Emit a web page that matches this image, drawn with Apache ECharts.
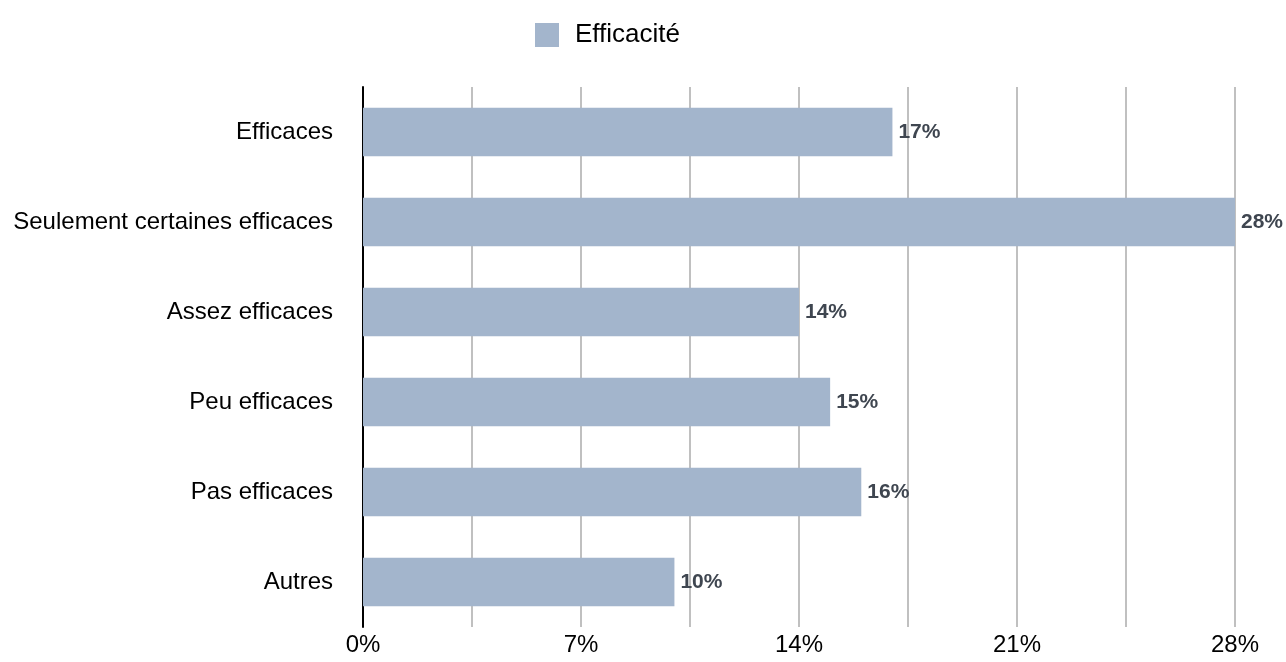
<!DOCTYPE html>
<html><head><meta charset="utf-8">
<script src="https://cdn.jsdelivr.net/npm/echarts@6/dist/echarts.min.js"></script>
<style>html,body{margin:0;padding:0;background:#fff}#c{width:1286px;height:662px}</style>
</head><body><div id="c"></div>
<script>
const categories = ["Efficaces","Seulement certaines efficaces","Assez efficaces","Peu efficaces","Pas efficaces","Autres"];
const values = [17, 28, 14, 15, 16, 10];
const seriesName = "Efficacité";
const chart = echarts.init(document.getElementById('c'), null, {renderer:'canvas'});
chart.setOption({
  animation:false,
  legend:{top:17, left:530, itemWidth:24, itemHeight:24, icon:'rect',
    textStyle:{fontFamily:'Liberation Sans', fontSize:26, color:'#000', padding:[0,0,0,11]},
    data:[seriesName]},
  grid:{left:363, right:51, top:87, bottom:35, containLabel:false},
  xAxis:{type:'value', min:0, max:28, interval:3.5,
    axisLine:{show:false}, axisTick:{show:false},
    splitLine:{show:true, lineStyle:{color:'#c0c0c0', width:2}},
    axisLabel:{fontFamily:'Liberation Sans', fontSize:24, color:'#000', margin:6,
      formatter:function(v){ return (Math.round(v*10)%70===0) ? Math.round(v)+'%' : ''; }}},
  yAxis:{type:'category', inverse:true, data:categories,
    axisLine:{show:true, lineStyle:{color:'#000', width:2}}, axisTick:{show:false},
    axisLabel:{fontFamily:'Liberation Sans', fontSize:24, color:'#000', margin:30}},
  series:[{name:seriesName, type:'bar', data:values, barCategoryGap:'46%',
    itemStyle:{color:'#a3b5cc'},
    label:{show:true, position:'right', distance:6, formatter:'{c}%',
      fontFamily:'Liberation Sans', fontWeight:'bold', fontSize:21, color:'#3f4650'}}]
});
</script></body></html>
